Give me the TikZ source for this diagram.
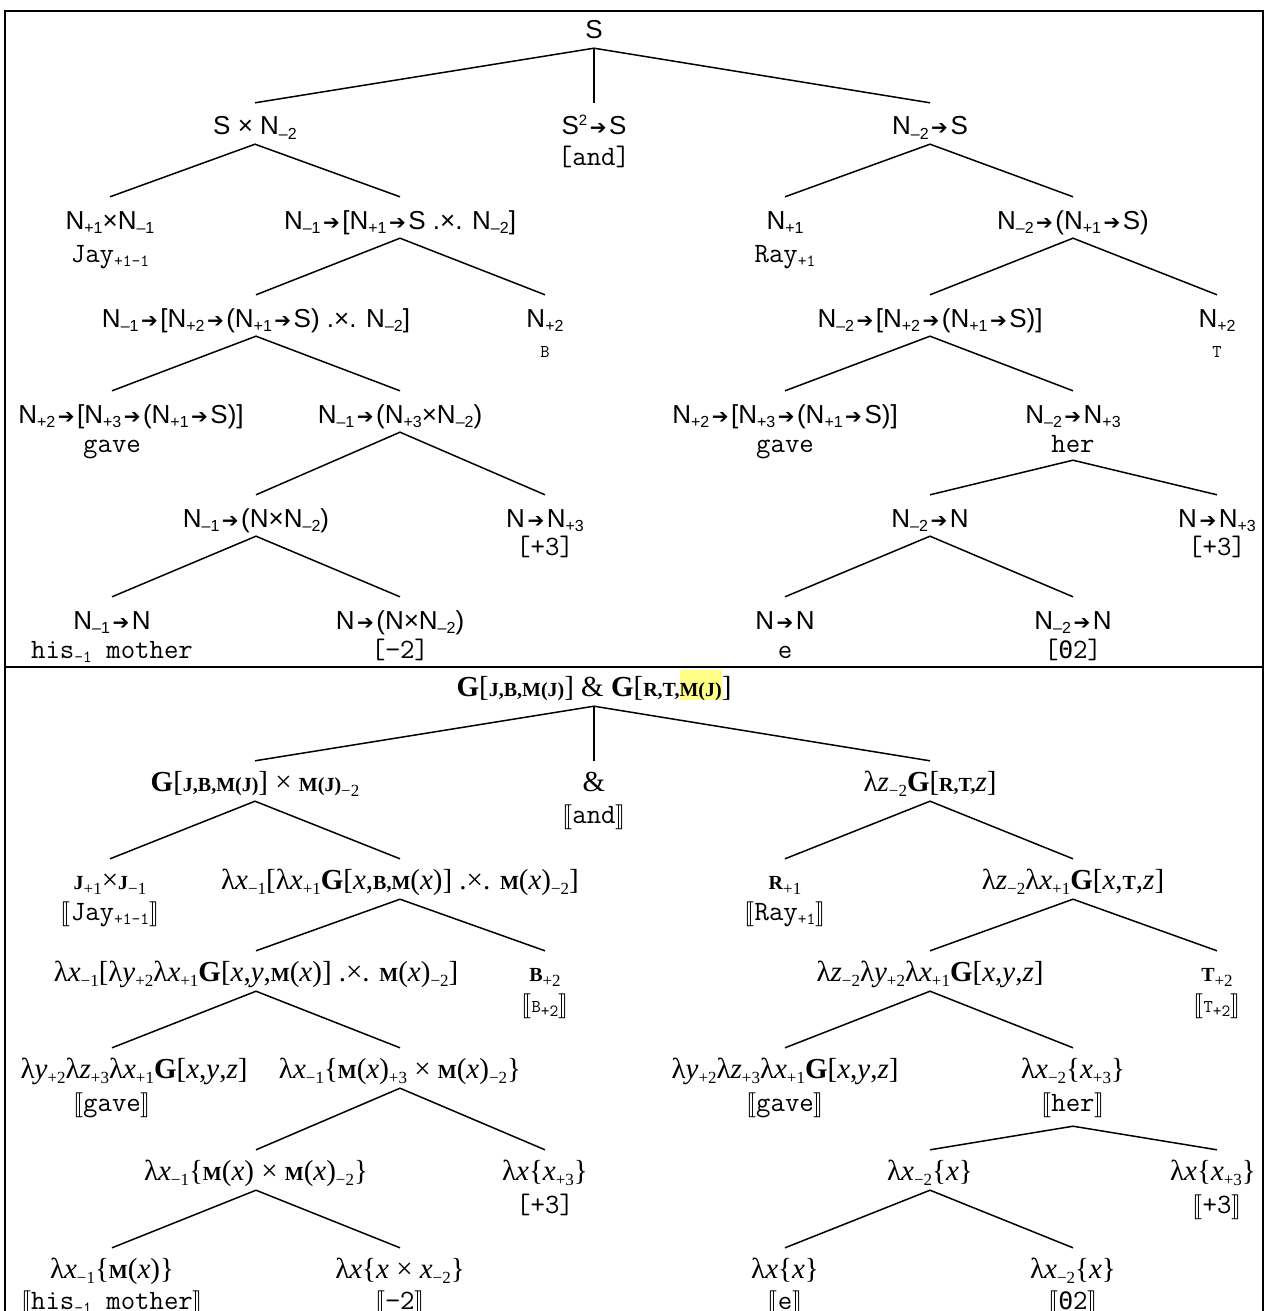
\documentclass[tikz,border=0pt]{standalone}
\usepackage{fontspec}
\usepackage{stmaryrd}
\setmainfont{Liberation Serif}
\newfontfamily\sansf{Liberation Sans}
\newfontfamily\monof{Latin Modern Mono}
\newfontfamily\symf{DejaVu Sans}
\newfontfamily\symmono{DejaVu Sans Mono}
\definecolor{hlyellow}{HTML}{FFFF88}

% type labels (upper tree), words, semantic labels (lower tree)
\newcommand\Tf{\sansf\fontsize{26}{30}\selectfont}
\newcommand\Mf{\monof\fontsize{28}{32}\selectfont}
\newcommand\Bf{\rmfamily\fontsize{29}{34}\selectfont}

% heavy type arrow
\newcommand\ar{\kern2.5pt{\symf\fontsize{20}{20}\selectfont ➔}\kern2.5pt}
% small raised / lowered indices
\newcommand\nsb[1]{\raisebox{-4.5pt}{\fontsize{16}{16}\selectfont #1}}
\newcommand\nsp[1]{\raisebox{9pt}{\fontsize{15}{15}\selectfont #1}}
\newcommand\msb[1]{\raisebox{-4pt}{\fontsize{17}{17}\selectfont #1}}
\newcommand\rsb[1]{\raisebox{-5pt}{\fontsize{17}{17}\selectfont #1}}
\newcommand\msmall[1]{{\fontsize{18}{18}\selectfont #1}}
\newcommand\thet{{\symmono\fontsize{24}{24}\selectfont Θ}}
% constants: full-size bold G, small bold individual constants
\newcommand\Gr{\textbf{G}}
\newcommand\Kc[1]{{\bfseries\fontsize{20}{20}\selectfont #1}}
\newcommand\vx{\textit{x}}
\newcommand\vy{\textit{y}}
\newcommand\vz{\textit{z}}
\newcommand\dbl[1]{$\llbracket$#1$\rrbracket$}
\newcommand\hlbox[1]{{\fboxsep=0pt\colorbox{hlyellow}{\rule[-4pt]{0pt}{30pt}#1}}}

\begin{document}
\begin{tikzpicture}[x=1pt,y=-1pt,
  cat/.style={font=\Tf, anchor=base, inner sep=0pt, text height=32pt, text depth=9pt},
  word/.style={font=\Mf, anchor=base, inner sep=0pt, text height=18pt, text depth=8pt},
  sem/.style={font=\Bf, anchor=base, inner sep=0pt, text height=30pt, text depth=10pt},
  bword/.style={font=\Mf, anchor=base, inner sep=0pt, text height=20pt, text depth=15pt},
  edge/.style={line width=1.5pt},
  frame/.style={line width=2.5pt}]
\useasboundingbox (0,0) rectangle (1265,1311);

% frame and divider
\draw[frame] (5,1330) -- (5,11) -- (1263,11) -- (1263,1330);
\draw[frame] (5,667) -- (1263,667);

% ---------------- upper tree: types ----------------
\node[cat] (t0) at (594,39) {S};
\node[cat] (t1a) at (255,135) {S × N\nsb{–2}};
\node[cat] (t1b) at (594,135) {S\nsp{2}\ar S};
\node[word] (w1b) at (594,165) {[and]};
\node[cat] (t1c) at (930,135) {N\nsb{–2}\ar S};

\node[cat] (t2a) at (110,229) {N\nsb{+1}×N\nsb{–1}};
\node[word] (w2a) at (110,262) {Jay\msb{+1–1}};
\node[cat] (t2b) at (400,229) {N\nsb{–1}\ar[N\nsb{+1}\ar S .×. N\nsb{–2}]};
\node[cat] (t2c) at (785,229) {N\nsb{+1}};
\node[word] (w2c) at (785,262) {Ray\msb{+1}};
\node[cat] (t2d) at (1073,229) {N\nsb{–2}\ar(N\nsb{+1}\ar S)};

\node[cat] (t3a) at (256,327) {N\nsb{–1}\ar[N\nsb{+2}\ar(N\nsb{+1}\ar S) .×. N\nsb{–2}]};
\node[cat] (t3b) at (545,327) {N\nsb{+2}};
\node[word] (w3b) at (545,357) {\msmall{B}};
\node[cat] (t3c) at (930,327) {N\nsb{–2}\ar[N\nsb{+2}\ar(N\nsb{+1}\ar S)]};
\node[cat] (t3d) at (1217,327) {N\nsb{+2}};
\node[word] (w3d) at (1217,357) {\msmall{T}};

\node[cat] (t4a) at (131,423) {N\nsb{+2}\ar[N\nsb{+3}\ar(N\nsb{+1}\ar S)]};
\node[word] (w4a) at (112,452) {gave};
\node[cat] (t4b) at (400,423) {N\nsb{–1}\ar(N\nsb{+3}×N\nsb{–2})};
\node[cat] (t4c) at (785,423) {N\nsb{+2}\ar[N\nsb{+3}\ar(N\nsb{+1}\ar S)]};
\node[word] (w4c) at (785,452) {gave};
\node[cat] (t4d) at (1073,423) {N\nsb{–2}\ar N\nsb{+3}};
\node[word] (w4d) at (1073,452) {her};

\node[cat] (t5a) at (256,527) {N\nsb{–1}\ar(N×N\nsb{–2})};
\node[cat] (t5b) at (545,527) {N\ar N\nsb{+3}};
\node[word] (w5b) at (545,555) {[+3]};
\node[cat] (t5c) at (930,527) {N\nsb{–2}\ar N};
\node[cat] (t5d) at (1217,527) {N\ar N\nsb{+3}};
\node[word] (w5d) at (1217,555) {[+3]};

\node[cat] (t6a) at (112,629) {N\nsb{–1}\ar N};
\node[word] (w6a) at (112,658) {his\msb{–1} mother};
\node[cat] (t6b) at (400,629) {N\ar(N×N\nsb{–2})};
\node[word] (w6b) at (400,658) {[−2]};
\node[cat] (t6c) at (785,629) {N\ar N};
\node[word] (w6c) at (785,658) {e};
\node[cat] (t6d) at (1073,629) {N\nsb{–2}\ar N};
\node[word] (w6d) at (1073,658) {[\thet2]};

\draw[edge] (t1a.north) -- (t0.south) -- (t1c.north);
\draw[edge] (t0.south) -- (t1b.north);
\draw[edge] (t2a.north) -- (t1a.south) -- (t2b.north);
\draw[edge] (t3a.north) -- (t2b.south) -- (t3b.north);
\draw[edge] ([xshift=-19pt]t4a.north) -- (t3a.south) -- (t4b.north);
\draw[edge] (t5a.north) -- (t4b.south) -- (t5b.north);
\draw[edge] (t6a.north) -- (t5a.south) -- (t6b.north);
\draw[edge] (t2c.north) -- (t1c.south) -- (t2d.north);
\draw[edge] (t3c.north) -- (t2d.south) -- (t3d.north);
\draw[edge] (t4c.north) -- (t3c.south) -- (t4d.north);
\draw[edge] (t5c.north) -- (w4d.south) -- (t5d.north);
\draw[edge] (t6c.north) -- (t5c.south) -- (t6d.north);

% ---------------- lower tree: meanings ----------------
\node[sem] (s0) at (594,696) {\Gr[\Kc{J,B,M(J)}] \& \Gr[\Kc{R,T,}\hlbox{\Kc{M(J)}}]};
\node[sem] (s1a) at (255,791) {\Gr[\Kc{J,B,M(J)}] × \Kc{M(J)}\rsb{−2}};
\node[sem] (s1b) at (594,791) {\&};
\node[bword] (v1b) at (594,823) {\dbl{and}};
\node[sem] (s1c) at (930,791) {λ\vz\rsb{−2}\Gr[\Kc{R,T,}\vz]};

\node[sem] (s2a) at (110,889) {\Kc{J}\rsb{+1}×\Kc{J}\rsb{−1}};
\node[bword] (v2a) at (110,920) {\dbl{Jay\msb{+1–1}}};
\node[sem] (s2b) at (400,889) {λ\vx\rsb{−1}[λ\vx\rsb{+1}\Gr[\vx,\Kc{B,M}(\vx)] .×. \Kc{M}(\vx)\rsb{−2}]};
\node[sem] (s2c) at (785,889) {\Kc{R}\rsb{+1}};
\node[bword] (v2c) at (785,920) {\dbl{Ray\msb{+1}}};
\node[sem] (s2d) at (1073,889) {λ\vz\rsb{−2}λ\vx\rsb{+1}\Gr[\vx,\Kc{T},\vz]};

\node[sem] (s3a) at (256,981) {λ\vx\rsb{−1}[λ\vy\rsb{+2}λ\vx\rsb{+1}\Gr[\vx,\vy,\Kc{M}(\vx)] .×. \Kc{M}(\vx)\rsb{−2}]};
\node[sem] (s3b) at (545,981) {\Kc{B}\rsb{+2}};
\node[bword] (v3b) at (545,1012) {\dbl{\msmall{B}\msb{+2}}};
\node[sem] (s3c) at (930,981) {λ\vz\rsb{−2}λ\vy\rsb{+2}λ\vx\rsb{+1}\Gr[\vx,\vy,\vz]};
\node[sem] (s3d) at (1217,981) {\Kc{T}\rsb{+2}};
\node[bword] (v3d) at (1217,1012) {\dbl{\msmall{T}\msb{+2}}};

\node[sem] (s4a) at (134,1078) {λ\vy\rsb{+2}λ\vz\rsb{+3}λ\vx\rsb{+1}\Gr[\vx,\vy,\vz]};
\node[bword] (v4a) at (112,1111) {\dbl{gave}};
\node[sem] (s4b) at (400,1078) {λ\vx\rsb{−1}\{\Kc{M}(\vx)\rsb{+3} × \Kc{M}(\vx)\rsb{−2}\}};
\node[sem] (s4c) at (785,1078) {λ\vy\rsb{+2}λ\vz\rsb{+3}λ\vx\rsb{+1}\Gr[\vx,\vy,\vz]};
\node[bword] (v4c) at (785,1111) {\dbl{gave}};
\node[sem] (s4d) at (1073,1078) {λ\vx\rsb{−2}\{\vx\rsb{+3}\}};
\node[bword] (v4d) at (1073,1111) {\dbl{her}};

\node[sem] (s5a) at (256,1180) {λ\vx\rsb{−1}\{\Kc{M}(\vx) × \Kc{M}(\vx)\rsb{−2}\}};
\node[sem] (s5b) at (545,1180) {λ\vx\{\vx\rsb{+3}\}};
\node[word] (v5b) at (545,1213) {[+3]};
\node[sem] (s5c) at (930,1180) {λ\vx\rsb{−2}\{\vx\}};
\node[sem] (s5d) at (1213,1180) {λ\vx\{\vx\rsb{+3}\}};
\node[bword] (v5d) at (1217,1213) {\dbl{+3}};

\node[sem] (s6a) at (112,1278) {λ\vx\rsb{−1}\{\Kc{M}(\vx)\}};
\node[bword] (v6a) at (112,1309) {\dbl{his\msb{–1} mother}};
\node[sem] (s6b) at (400,1278) {λ\vx\{\vx{} × \vx\rsb{−2}\}};
\node[bword] (v6b) at (400,1309) {\dbl{−2}};
\node[sem] (s6c) at (785,1278) {λ\vx\{\vx\}};
\node[bword] (v6c) at (785,1309) {\dbl{e}};
\node[sem] (s6d) at (1073,1278) {λ\vx\rsb{−2}\{\vx\}};
\node[bword] (v6d) at (1073,1309) {\dbl{\thet2}};

\draw[edge] (s1a.north) -- (s0.south) -- (s1c.north);
\draw[edge] (s0.south) -- (s1b.north);
\draw[edge] (s2a.north) -- (s1a.south) -- (s2b.north);
\draw[edge] (s3a.north) -- (s2b.south) -- (s3b.north);
\draw[edge] ([xshift=-22pt]s4a.north) -- (s3a.south) -- (s4b.north);
\draw[edge] (s5a.north) -- (s4b.south) -- (s5b.north);
\draw[edge] (s6a.north) -- (s5a.south) -- (s6b.north);
\draw[edge] (s2c.north) -- (s1c.south) -- (s2d.north);
\draw[edge] (s3c.north) -- (s2d.south) -- (s3d.north);
\draw[edge] (s4c.north) -- (s3c.south) -- (s4d.north);
\draw[edge] (s5c.north) -- (v4d.south) -- ([xshift=4pt]s5d.north);
\draw[edge] (s6c.north) -- (s5c.south) -- (s6d.north);
\end{tikzpicture}
\end{document}
